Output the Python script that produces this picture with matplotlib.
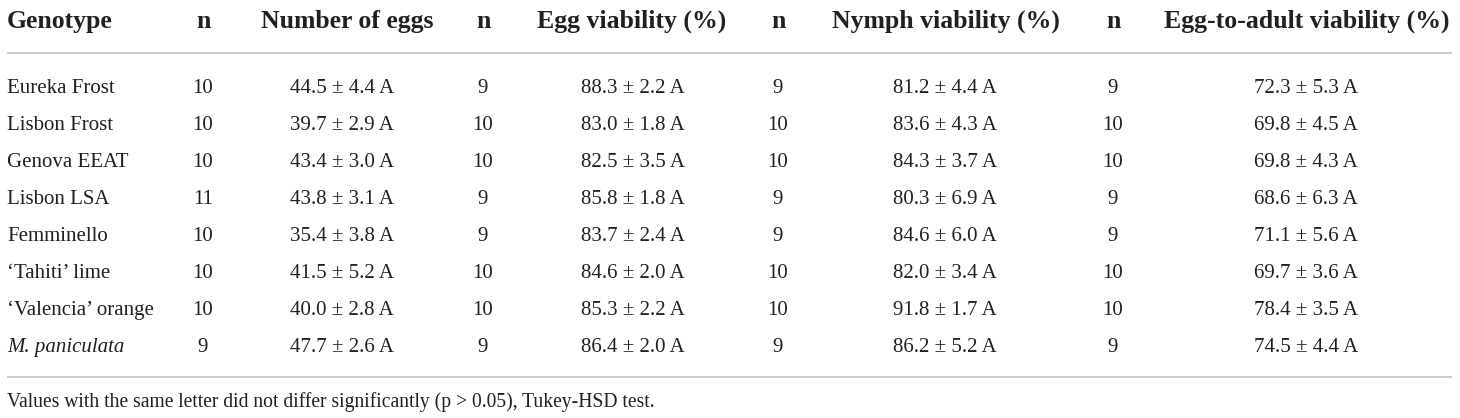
import matplotlib
matplotlib.use("Agg")
import matplotlib.pyplot as plt

plt.rcParams.update({
    "font.family": ["Liberation Serif", "DejaVu Serif"],
    "text.color": "#231f20",
})

# table content
headers = ["Genotype", "n", "Number of eggs", "n", "Egg viability (%)",
           "n", "Nymph viability (%)", "n", "Egg-to-adult viability (%)"]
genotypes = ["Eureka Frost", "Lisbon Frost", "Genova EEAT", "Lisbon LSA",
             "Femminello", "\u2018Tahiti\u2019 lime", "\u2018Valencia\u2019 orange",
             "M. paniculata"]
italic_rows = [False] * 7 + [True]

n_eggs = [10, 10, 10, 11, 10, 10, 10, 9]
eggs_mean = [44.5, 39.7, 43.4, 43.8, 35.4, 41.5, 40.0, 47.7]
eggs_se = [4.4, 2.9, 3.0, 3.1, 3.8, 5.2, 2.8, 2.6]

n_eggvia = [9, 10, 10, 9, 9, 10, 10, 9]
eggvia_mean = [88.3, 83.0, 82.5, 85.8, 83.7, 84.6, 85.3, 86.4]
eggvia_se = [2.2, 1.8, 3.5, 1.8, 2.4, 2.0, 2.2, 2.0]

n_nymph = [9, 10, 10, 9, 9, 10, 10, 9]
nymph_mean = [81.2, 83.6, 84.3, 80.3, 84.6, 82.0, 91.8, 86.2]
nymph_se = [4.4, 4.3, 3.7, 6.9, 6.0, 3.4, 1.7, 5.2]

n_adult = [9, 10, 10, 9, 9, 10, 10, 9]
adult_mean = [72.3, 69.8, 69.8, 68.6, 71.1, 69.7, 78.4, 74.5]
adult_se = [5.3, 4.5, 4.3, 6.3, 5.6, 3.6, 3.5, 4.4]

letters = ["A"] * 8

footnote = ("Values with the same letter did not differ significantly "
            "(p > 0.05), Tukey-HSD test.")

W, H = 1460, 418
fig = plt.figure(figsize=(W / 100, H / 100), dpi=100)
ax = fig.add_axes([0, 0, 1, 1])
ax.set_xlim(0, W)
ax.set_ylim(H, 0)
ax.axis("off")

head_x = [7, 203, 347, 483, 632, 778, 946, 1113, 1307]
body_x = [7, 203, 342, 483, 633, 778, 945, 1113, 1306]
head_base = 28
row_base0, row_dy = 92.7, 37.1
line_col = "#c8c8c8"

for i, h in enumerate(headers):
    ax.text(head_x[i], head_base, h, fontsize=18.5, fontweight="bold",
            ha="left" if i == 0 else "center", va="baseline")

ax.plot([7, 1452], [53, 53], color=line_col, lw=1.3, solid_capstyle="butt")
ax.plot([7, 1452], [377, 377], color=line_col, lw=1.3, solid_capstyle="butt")

cols = [(n_eggs, eggs_mean, eggs_se), (n_eggvia, eggvia_mean, eggvia_se),
        (n_nymph, nymph_mean, nymph_se), (n_adult, adult_mean, adult_se)]

for r, g in enumerate(genotypes):
    y = row_base0 + r * row_dy
    ax.text(body_x[0], y, g, fontsize=15, ha="left", va="baseline",
            style="italic" if italic_rows[r] else "normal")
    for c, (nn, mm, ss) in enumerate(cols):
        ax.text(body_x[1 + 2 * c], y, str(nn[r]), fontsize=15,
                ha="center", va="baseline")
        ax.text(body_x[2 + 2 * c], y, f"{mm[r]:.1f} \u00b1 {ss[r]:.1f} {letters[r]}",
                fontsize=15, ha="center", va="baseline")

ax.text(7, 407, footnote, fontsize=14.1, ha="left", va="baseline")

fig.savefig("out.png", dpi=100)
